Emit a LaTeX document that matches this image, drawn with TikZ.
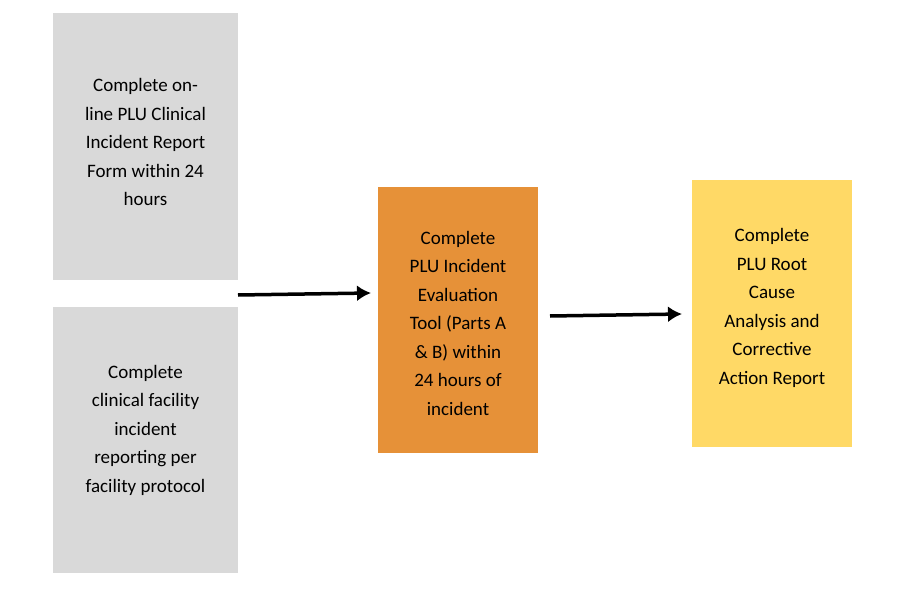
\documentclass[tikz,border=0pt]{standalone}
\usepackage{fontspec}
\setmainfont{Carlito}
\begin{document}
\begin{tikzpicture}[x=1pt,y=-1pt,
  box/.style={draw=none,inner sep=0pt,align=center,font=\fontsize{19}{28.5}\selectfont},
  arr/.style={line width=3.5pt,-{Latex[length=14pt,width=16pt]}}]
\usetikzlibrary{arrows.meta}
\useasboundingbox (0,0) rectangle (910,596);
\fill[white] (0,0) rectangle (910,596);
\definecolor{gr}{HTML}{D9D9D9}
\definecolor{og}{HTML}{E69138}
\definecolor{yl}{HTML}{FFD966}
\fill[gr] (53,13) rectangle (238,280);
\fill[gr] (53,307) rectangle (238,573);
\fill[og] (378,187) rectangle (538,453);
\fill[yl] (692,180) rectangle (852,447);
\node[box] (a) at (145.5,142) {Complete on-\\line PLU Clinical\\Incident Report\\Form within 24\\hours};
\node[box] (b) at (145.5,430) {Complete\\clinical facility\\incident\\reporting per\\facility protocol};
\node[box] (c) at (458,323) {Complete\\PLU Incident\\Evaluation\\Tool (Parts A\\\& B) within\\24 hours of\\incident};
\node[box] (d) at (772,308) {Complete\\PLU Root\\Cause\\Analysis and\\Corrective\\Action Report};
\coordinate (a1) at (238,295); \coordinate (a2) at (371,293);
\coordinate (b1) at (550,316); \coordinate (b2) at (682,314);
\draw[arr] (a1) -- (a2);
\draw[arr] (b1) -- (b2);
\end{tikzpicture}
\end{document}
